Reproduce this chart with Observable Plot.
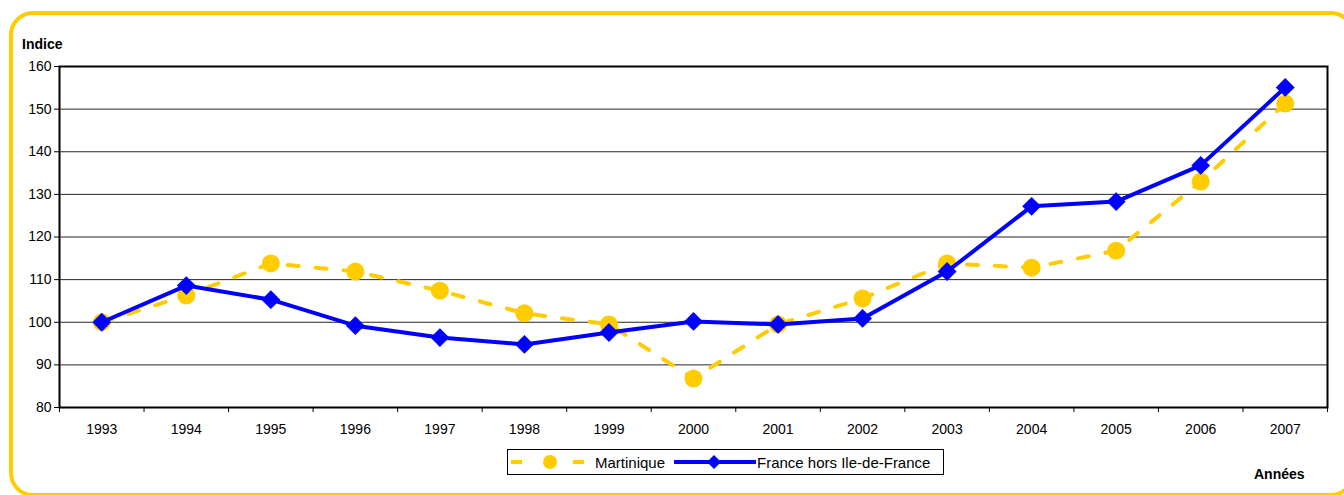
<!DOCTYPE html>
<html><head><meta charset="utf-8">
<script src="https://cdn.jsdelivr.net/npm/d3@7"></script>
<script src="https://cdn.jsdelivr.net/npm/@observablehq/plot@0.6"></script>
<style>
html,body{margin:0;padding:0;background:#fff;overflow:hidden}
#wrap{position:relative;width:1344px;height:495px;overflow:hidden;font-family:"Liberation Sans",Arial,sans-serif}
#frame{position:absolute;left:9px;top:11px;width:1346px;height:486px;border:4px solid #FFCC00;border-radius:24px;box-sizing:border-box}
#chart{position:absolute;left:0;top:0}
.lbl{position:absolute;font-weight:bold;font-size:14px;color:#000;line-height:16px}
#legend{position:absolute;left:507px;top:449px;width:437px;height:26px;border:1px solid #000;box-sizing:border-box;background:#fff}
#legend svg{position:absolute;left:-1px;top:-1px}
</style></head>
<body><div id="wrap"><div id="frame"></div><div id="chart"></div>
<div class="lbl" style="left:22px;top:36px">Indice</div>
<div class="lbl" style="left:1254px;top:466px">Années</div>
<div id="legend">
<svg width="437" height="26" font-family="'Liberation Sans', Arial, sans-serif" font-size="15">
<line x1="4" y1="13" x2="15" y2="13" stroke="#FFCC00" stroke-width="4"/>
<line x1="66" y1="13" x2="77" y2="13" stroke="#FFCC00" stroke-width="4"/>
<circle cx="43" cy="13" r="7" fill="#FFCC00"/>
<text x="88" y="18.5" fill="#000">Martinique</text>
<line x1="167" y1="13" x2="249" y2="13" stroke="#0000FF" stroke-width="4"/>
<path d="M207,6L214,13L207,20L200,13Z" fill="#0000FF"/>
<text x="250" y="18.5" fill="#000">France hors Ile-de-France</text>
</svg>
</div>
</div>
<script>
const years = [1993,1994,1995,1996,1997,1998,1999,2000,2001,2002,2003,2004,2005,2006,2007];
const martinique = [100,106.3,113.8,111.9,107.4,102.1,99.5,86.8,99.5,105.6,113.8,112.8,116.8,133,151.3];
const france = [100,108.6,105.3,99.2,96.4,94.8,97.6,100.2,99.5,100.9,111.9,127.2,128.3,136.8,155.1];
const yTicks = [80,90,100,110,120,130,140,150,160];

const dataM = years.map((y,i)=>({year:y,v:martinique[i]}));
const dataF = years.map((y,i)=>({year:y,v:france[i]}));
const bounds = years.map(y=>y-0.5).concat([years[years.length-1]+0.5]);

const chart = Plot.plot({
  width:1344, height:495,
  marginLeft:59, marginRight:17, marginTop:66, marginBottom:88,
  style:{fontFamily:"'Liberation Sans', Arial, sans-serif", fontSize:"14px", color:"#000", background:"transparent"},
  x:{domain:[bounds[0], bounds[bounds.length-1]]},
  y:{domain:[80,160]},
  marks:[
    Plot.gridY(yTicks,{stroke:"#000",strokeOpacity:0.85,strokeWidth:1}),
    Plot.axisY(yTicks,{tickSize:5,tickPadding:3,label:null,fontSize:14,stroke:"#000"}),
    Plot.axisX(years,{tickSize:0,tickPadding:17,tickFormat:d=>String(d),label:null,fontSize:14}),
    Plot.axisX(bounds,{tickSize:5,tickFormat:()=>"",label:null,stroke:"#000"}),
    Plot.frame({stroke:"#000",strokeWidth:2}),
    Plot.line(dataM,{x:"year",y:"v",stroke:"#FFCC00",strokeWidth:4,strokeDasharray:"11 17"}),
    Plot.dot(dataM,{x:"year",y:"v",r:9,fill:"#FFCC00",stroke:"none"}),
    Plot.line(dataF,{x:"year",y:"v",stroke:"#0000FF",strokeWidth:4}),
    Plot.dot(dataF,{x:"year",y:"v",r:8.5,symbol:"diamond2",fill:"#0000FF",stroke:"none"})
  ]
});
document.getElementById("chart").appendChild(chart);
</script>
</body></html>
